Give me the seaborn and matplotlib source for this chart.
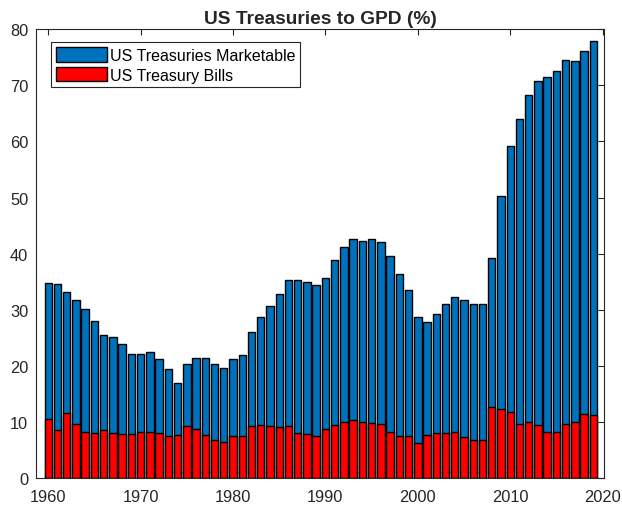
import numpy as np
import pandas as pd
import matplotlib
matplotlib.use("Agg")
import matplotlib.pyplot as plt
import seaborn as sns

# Years on the x axis
years = list(range(1960, 2020))

# US Treasuries Marketable (% of GDP)
marketable = [
    34.7, 34.6, 33.1, 31.7, 30.2, 28.0, 25.6, 25.2, 24.0, 22.1,
    22.2, 22.5, 21.3, 19.5, 17.0, 20.4, 21.5, 21.5, 20.4, 19.7,
    21.3, 22.0, 26.1, 28.8, 30.7, 32.9, 35.3, 35.4, 34.9, 34.5,
    35.6, 38.9, 41.2, 42.6, 42.3, 42.6, 42.0, 39.5, 36.4, 33.5,
    28.8, 27.9, 29.2, 31.1, 32.3, 31.8, 31.1, 31.1, 39.2, 50.2,
    59.1, 64.0, 68.3, 70.7, 71.4, 72.5, 74.4, 74.3, 76.0, 77.9,
]

# US Treasury Bills (% of GDP)
bills = [
    10.6, 8.6, 11.7, 9.7, 8.2, 8.0, 8.6, 8.0, 7.9, 7.9,
    8.2, 8.3, 8.0, 7.5, 7.7, 9.3, 8.75, 7.7, 6.8, 6.5,
    7.5, 7.6, 9.3, 9.5, 9.3, 9.2, 9.3, 8.0, 7.9, 7.6,
    8.8, 9.5, 10.1, 10.4, 10.1, 9.9, 9.6, 8.3, 7.5, 7.6,
    6.25, 7.7, 8.0, 8.0, 8.2, 7.4, 6.8, 6.9, 12.7, 12.3,
    11.8, 9.7, 10.0, 9.5, 8.2, 8.2, 9.6, 10.0, 11.4, 11.2,
]

df = pd.DataFrame({"year": years, "marketable": marketable, "bills": bills})

sns.set_style("white")
plt.rcParams['font.family'] = ['Liberation Sans', 'DejaVu Sans']
axis_col = '#262626'

fig = plt.figure(figsize=(6.22, 5.06), dpi=100)
ax = fig.add_axes([0.0579, 0.0527, 0.9132, 0.888])

sns.barplot(data=df, x="year", y="marketable", native_scale=True, width=0.8,
            color="#0072BD", saturation=1, edgecolor="black", linewidth=1,
            label="US Treasuries Marketable", ax=ax)
sns.barplot(data=df, x="year", y="bills", native_scale=True, width=0.8,
            color="#FF0000", saturation=1, edgecolor="black", linewidth=1,
            label="US Treasury Bills", ax=ax)

ax.set_xlim(1958.68, 2020.15)
ax.set_ylim(0, 80)
ax.set_xticks(range(1960, 2021, 10))
ax.set_yticks(range(0, 81, 10))
ax.set_xlabel("")
ax.set_ylabel("")

for s in ax.spines.values():
    s.set_color(axis_col)
    s.set_linewidth(0.8)
    s.set_zorder(5)
ax.tick_params(axis='both', direction='in', length=4, width=0.8, color=axis_col,
               labelcolor=axis_col, labelsize=11.8, top=True, right=True)
ax.tick_params(axis='x', pad=8)
ax.tick_params(axis='y', pad=5.5)

ax.set_title("US Treasuries to GPD (%)", fontsize=13.8, fontweight='bold', pad=4)

leg = ax.legend(loc='upper left', bbox_to_anchor=(0.0259, 0.970), fontsize=11.5,
                frameon=True, fancybox=False, framealpha=1, edgecolor=axis_col,
                handlelength=3.25, handleheight=1.05, labelspacing=0.22,
                handletextpad=0.15, borderpad=0.3, borderaxespad=0,
                labelcolor='black')
leg.get_frame().set_linewidth(0.8)

fig.savefig("out.png", dpi=100)
